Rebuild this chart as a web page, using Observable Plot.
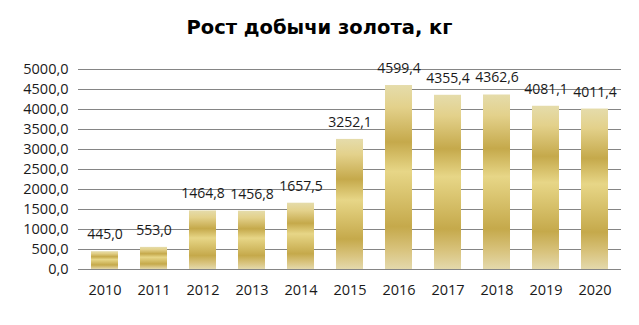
<!DOCTYPE html>
<html>
<head>
<meta charset="utf-8">
<script src="https://cdn.jsdelivr.net/npm/d3@7"></script>
<script src="https://cdn.jsdelivr.net/npm/@observablehq/plot@0.6"></script>
<style>
  body { margin: 0; background: #fff; font-family: "Open Sans", sans-serif; }
  #title { height: 48px; line-height: 56px; text-align: center; font-family: "DejaVu Sans", sans-serif; font-weight: bold; font-size: 19.5px; color: #000; width: 639px; }
  #chart svg { display: block; }
</style>
</head>
<body>
<div id="title">Рост добычи золота, кг</div>
<div id="chart"></div>
<script>
const years = ["2010","2011","2012","2013","2014","2015","2016","2017","2018","2019","2020"];
const values = [445.0, 553.0, 1464.8, 1456.8, 1657.5, 3252.1, 4599.4, 4355.4, 4362.6, 4081.1, 4011.4];
const yTicks = [0, 500, 1000, 1500, 2000, 2500, 3000, 3500, 4000, 4500, 5000];

const data = years.map((y, i) => ({year: y, value: values[i]}));
const fmt = v => v.toFixed(1).replace(".", ",");

const defs = () => {
  const d = d3.create("svg:defs");
  const g = d.append("linearGradient").attr("id", "gold")
    .attr("x1", 0).attr("y1", 0).attr("x2", 0).attr("y2", 1);
  [[0, "#e5dcab"], [0.12, "#e3d18b"], [0.31, "#c5a94b"], [0.47, "#e7d687"],
   [0.77, "#c5a94b"], [0.9, "#d9c47f"], [1, "#e4d9ac"]]
    .forEach(([o, c]) => g.append("stop").attr("offset", o).attr("stop-color", c));
  return d.node();
};

const chart = Plot.plot({
  width: 639,
  height: 277,
  marginTop: 21,
  marginBottom: 56,
  marginLeft: 78,
  marginRight: 18,
  style: {fontFamily: "Open Sans, sans-serif", fontSize: "14.5px", color: "#000", background: "#fff"},
  x: {domain: years, paddingInner: 0.45, paddingOuter: 0.225, label: null},
  y: {domain: [0, 5000], label: null},
  marks: [
    defs,
    Plot.ruleY(yTicks, {stroke: "#858585", strokeWidth: 1.2}),
    Plot.axisY({ticks: yTicks, tickFormat: fmt, tickSize: 0, tickPadding: 10, fontSize: 14.5, label: null, fill: "#1a1a1a"}),
    Plot.axisX({tickSize: 0, tickPadding: 15, fontSize: 14.5, label: null, fill: "#1a1a1a"}),
    Plot.barY(data, {x: "year", y: "value", fill: "url(#gold)"}),
    Plot.text(data, {x: "year", y: "value", text: d => fmt(d.value), dy: -17, fontSize: 14, fill: "#1a1a1a"})
  ]
});
document.getElementById("chart").appendChild(chart);
</script>
</body>
</html>
